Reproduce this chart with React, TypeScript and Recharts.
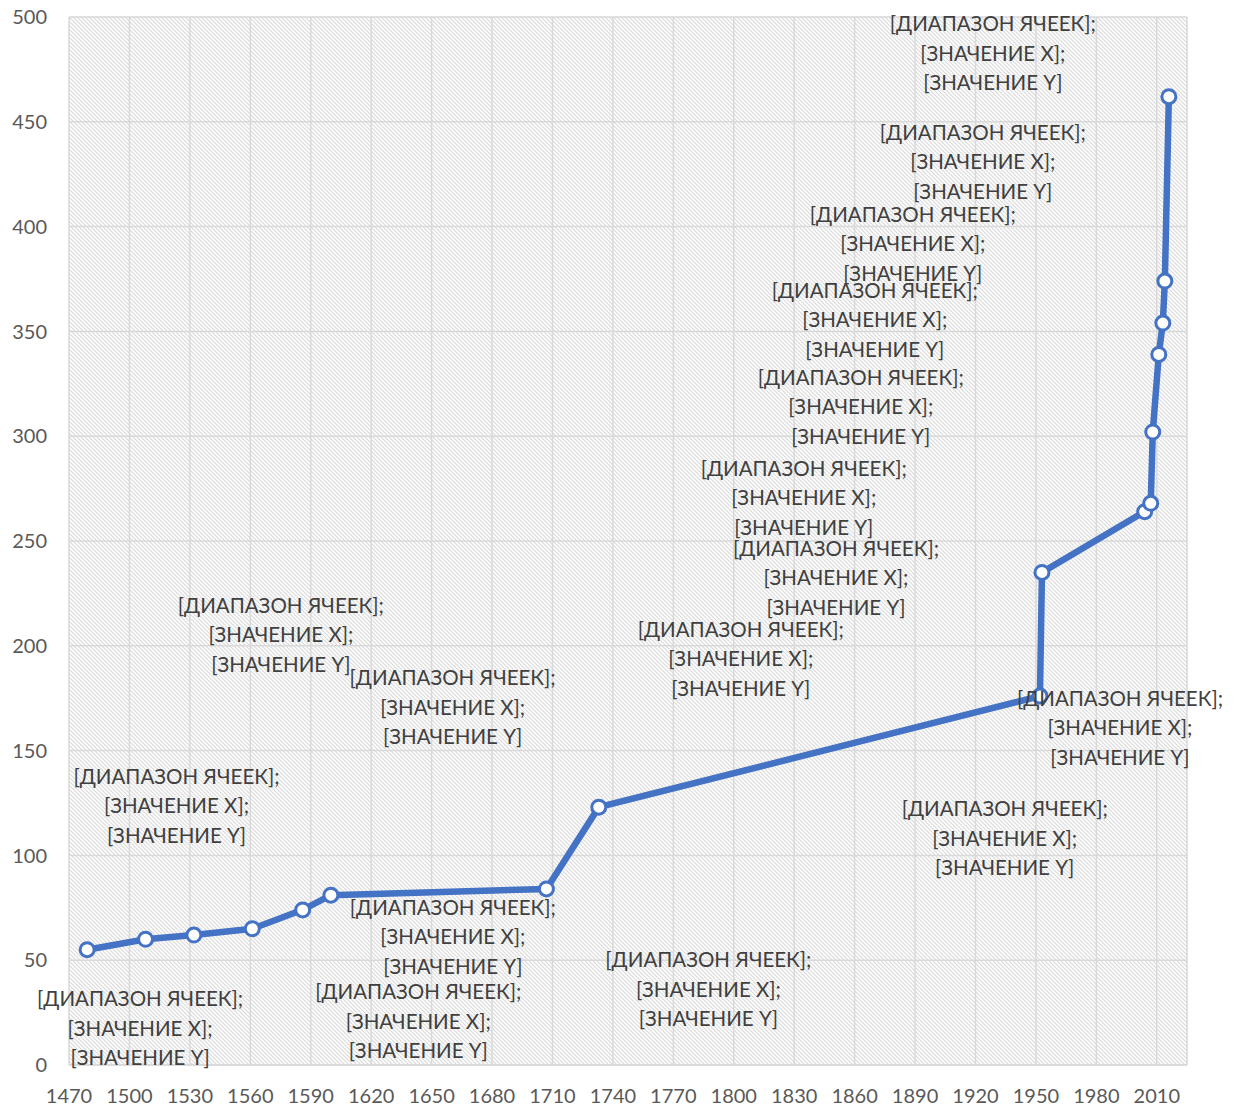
import { ScatterChart, Scatter, XAxis, YAxis, CartesianGrid } from 'recharts';

// годы и значения точек
const years = [1479, 1508, 1532, 1561, 1586, 1600, 1707, 1733, 1952, 1953, 2004, 2007, 2008, 2011, 2013, 2014, 2016];
const values = [55, 60, 62, 65, 74, 81, 84, 123, 176, 235, 264, 268, 302, 339, 354, 374, 462];

const xTicks = [1470, 1500, 1530, 1560, 1590, 1620, 1650, 1680, 1710, 1740, 1770, 1800, 1830, 1860, 1890, 1920, 1950, 1980, 2010];
const yTicks = [0, 50, 100, 150, 200, 250, 300, 350, 400, 450, 500];

const labelLines = ['[ДИАПАЗОН ЯЧЕЕК];', '[ЗНАЧЕНИЕ X];', '[ЗНАЧЕНИЕ Y]'];

// сдвиг подписи (центр средней строки) относительно точки, px
const labelOffsets = [
  [53, 78], [31, -134], [87, -301], [166, 92], [150, -203], [122, 41],
  [162, 100], [142, -149], [80, 31], [-206, 5], [-140, 326], [-347, -6],
  [-292, -26], [-284, -35], [-250, -80], [-182, -120], [-176, -44],
];

const data = years.map((year, i) => ({ year, value: values[i], i }));

const FONT = 'Lato, "Liberation Sans", sans-serif';
const BLUE = '#4472C4';

const Marker = (props: any) => {
  const { cx, cy } = props;
  if (cx == null || cy == null) return null;
  return <circle cx={cx} cy={cy} r={7} fill="#fff" stroke={BLUE} strokeWidth={3} />;
};

const PointLabel = (props: any) => {
  const { cx, cy, payload } = props;
  if (cx == null || cy == null) return null;
  const [dx, dy] = labelOffsets[payload.i];
  return (
    <g>
      {labelLines.map((t, k) => (
        <text
          key={k}
          x={cx + dx}
          y={cy + dy + (k - 1) * 29.5}
          textAnchor="middle"
          dominantBaseline="central"
          fill="#404040"
          fontSize={20.5}
          fontFamily={FONT}
        >
          {t}
        </text>
      ))}
    </g>
  );
};

export default function App() {
  return (
    <div style={{ position: 'absolute', left: 0, top: 0, background: '#fff' }}>
      <ScatterChart width={1238} height={1111} margin={{ top: 17, right: 51, left: 0, bottom: 0 }}>
        <defs>
          <pattern id="hatch" patternUnits="userSpaceOnUse" width={4} height={4}>
            <rect width={4} height={4} fill="#fff" />
            <path d="M-1,-1 L5,5 M-1,3 L1,5 M3,-1 L5,1" stroke="#dadada" strokeWidth={1.2} />
          </pattern>
        </defs>
        <CartesianGrid stroke="#d9d9d9" strokeWidth={1.5} fill="url(#hatch)" fillOpacity={1} />
        <XAxis
          type="number"
          dataKey="year"
          domain={[1470, 2025]}
          ticks={xTicks}
          height={46}
          axisLine={{ stroke: '#d9d9d9', strokeWidth: 1.5 }}
          tickLine={false}
          tickSize={0}
          tickMargin={24}
          tick={{ fill: '#595959', fontSize: 20, fontFamily: FONT }}
        />
        <YAxis
          type="number"
          dataKey="value"
          domain={[0, 500]}
          ticks={yTicks}
          width={69}
          axisLine={false}
          tickLine={false}
          tickSize={0}
          tickMargin={22}
          tick={{ fill: '#595959', fontSize: 20, fontFamily: FONT }}
        />
        <Scatter
          data={data}
          line={{ stroke: BLUE, strokeWidth: 6.5 }}
          lineType="joint"
          shape={<Marker />}
          isAnimationActive={false}
        />
        <Scatter data={data} shape={<PointLabel />} isAnimationActive={false} />
      </ScatterChart>
    </div>
  );
}
